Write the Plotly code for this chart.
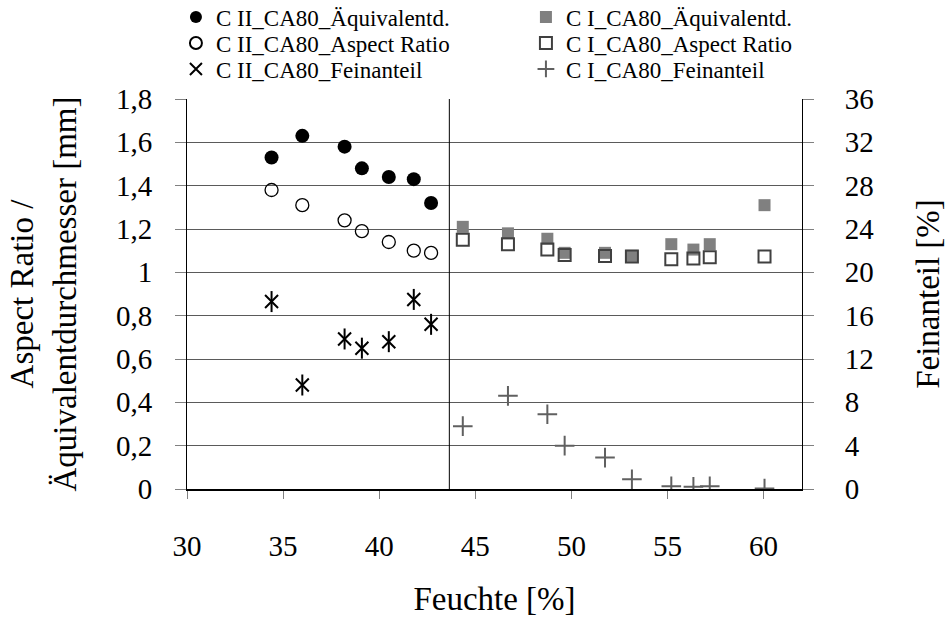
import plotly.graph_objects as go

# Moisture content [%] of the measured samples
feuchte_c2 = [34.4, 36.0, 38.2, 39.1, 40.5, 41.8, 42.7]
feuchte_c1 = [44.35, 46.7, 48.75, 49.65, 51.75, 53.15, 55.2, 56.35, 57.2, 60.05]

# C II series
c2_aequivalentd = [1.53, 1.63, 1.58, 1.48, 1.44, 1.43, 1.32]
c2_aspect_ratio = [1.38, 1.31, 1.24, 1.19, 1.14, 1.10, 1.09]
c2_feinanteil = [17.3, 9.6, 13.85, 13.0, 13.6, 17.5, 15.2]

# C I series
c1_aequivalentd = [1.21, 1.18, 1.155, 1.09, 1.09, 1.076, 1.13, 1.105, 1.13, 1.31]
c1_aspect_ratio = [1.15, 1.13, 1.105, 1.08, 1.075, 1.073, 1.06, 1.064, 1.07, 1.073]
c1_feinanteil = [5.8, 8.6, 6.9, 4.0, 2.9, 0.9, 0.25, 0.2, 0.25, 0.05]

# boundary between the C II and C I moisture ranges
grenze_feuchte = 43.65

x_ticks = [30, 35, 40, 45, 50, 55, 60]
y_ticks = [0, 0.2, 0.4, 0.6, 0.8, 1.0, 1.2, 1.4, 1.6, 1.8]
y_labels = ["0", "0,2", "0,4", "0,6", "0,8", "1", "1,2", "1,4", "1,6", "1,8"]
y2_ticks = [0, 4, 8, 12, 16, 20, 24, 28, 32, 36]

FONT = "Liberation Serif"
GRID = "#5a5a5a"
TICK = "#808080"

fig = go.Figure()

fig.add_trace(go.Scatter(
    x=feuchte_c2, y=c2_aequivalentd, mode="markers", name="C II_CA80_Äquivalentd.",
    legend="legend",
    marker=dict(symbol="circle", size=14, color="black", line=dict(width=0))))
fig.add_trace(go.Scatter(
    x=feuchte_c1, y=c1_aequivalentd, mode="markers", name="C I_CA80_Äquivalentd.",
    legend="legend",
    marker=dict(symbol="square", size=12, color="#808080", line=dict(width=0))))
fig.add_trace(go.Scatter(
    x=feuchte_c2, y=c2_aspect_ratio, mode="markers", name="C II_CA80_Aspect Ratio",
    legend="legend2",
    marker=dict(symbol="circle-open", size=13, color="black", line=dict(width=1.3))))
fig.add_trace(go.Scatter(
    x=feuchte_c1, y=c1_aspect_ratio, mode="markers", name="C I_CA80_Aspect Ratio",
    legend="legend2",
    marker=dict(symbol="square-open", size=12, color="#404040", line=dict(width=2))))
fig.add_trace(go.Scatter(
    x=feuchte_c2, y=c2_feinanteil, mode="markers", name="C II_CA80_Feinanteil",
    yaxis="y2", legend="legend3", legendgroup="c2fein",
    marker=dict(symbol="x-thin-open", size=13, color="black", line=dict(width=2, color="black"))))
fig.add_trace(go.Scatter(
    x=feuchte_c1, y=c1_feinanteil, mode="markers", name="C I_CA80_Feinanteil",
    yaxis="y2", legend="legend3",
    marker=dict(symbol="cross-thin-open", size=14, color="#606060", line=dict(width=2, color="#606060"))))
# vertical stroke completing the six-armed star marker
fig.add_trace(go.Scatter(
    x=feuchte_c2, y=c2_feinanteil, mode="markers", name="C II_CA80_Feinanteil",
    yaxis="y2", legend="legend3", legendgroup="c2fein", showlegend=False,
    marker=dict(symbol="line-ns-open", size=15, color="black", line=dict(width=2, color="black"))))

fig.add_shape(type="line", xref="x", yref="paper", x0=grenze_feuchte, x1=grenze_feuchte,
              y0=0, y1=1, line=dict(color="black", width=1))


def legend_row(y):
    return dict(
        orientation="h", x=-0.018, xanchor="left", y=y, yanchor="middle",
        entrywidth=305, entrywidthmode="pixels",
        font=dict(family=FONT, size=23, color="black"),
        bgcolor="rgba(0,0,0,0)", itemsizing="constant",
    )


fig.update_layout(
    width=946, height=617,
    margin=dict(l=187, r=144, t=99, b=128, autoexpand=False),
    paper_bgcolor="white", plot_bgcolor="white",
    font=dict(family=FONT, color="black", size=28),
    showlegend=True,
    legend=legend_row(1.2103),
    legend2=legend_row(1.1436),
    legend3=legend_row(1.0769),
    xaxis=dict(
        range=[30, 62], tickvals=x_ticks, ticktext=[str(v) for v in x_ticks],
        showgrid=False, zeroline=False, automargin=False,
        showline=True, linecolor="black", linewidth=2,
        ticks="outside", ticklen=8, tickcolor=TICK, tickwidth=1,
        ticklabelstandoff=22,
        tickfont=dict(size=29),
        title=dict(text="Feuchte [%]", font=dict(size=33), standoff=26),
    ),
    yaxis=dict(
        range=[0, 1.8], tickvals=y_ticks, ticktext=y_labels,
        showgrid=True, gridcolor=GRID, gridwidth=1, zeroline=False, automargin=False,
        showline=True, linecolor="black", linewidth=1,
        ticks="outside", ticklen=11, tickcolor=TICK, tickwidth=1,
        ticklabelstandoff=17,
        tickfont=dict(size=29),
        title=dict(text="Aspect Ratio /<br>Äquivalentdurchmesser [mm]", font=dict(size=33), standoff=29),
    ),
    yaxis2=dict(
        range=[0, 36], tickvals=y2_ticks, overlaying="y", side="right",
        showgrid=False, zeroline=False, automargin=False,
        showline=True, linecolor="black", linewidth=1,
        ticks="outside", ticklen=11, tickcolor=TICK, tickwidth=1,
        ticklabelstandoff=25,
        tickfont=dict(size=29),
        title=dict(text="Feinanteil [%]", font=dict(size=33), standoff=46),
    ),
)

fig.write_html("out.html")
